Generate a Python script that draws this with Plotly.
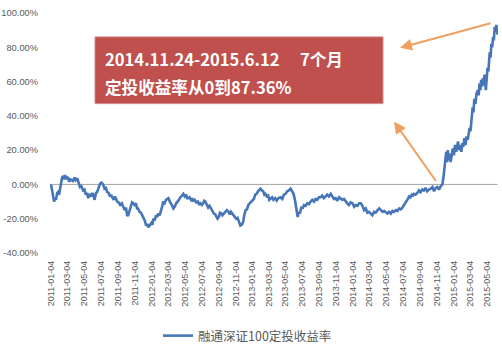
import plotly.graph_objects as go

dates = [
"2011-01-04","2011-01-08","2011-01-12","2011-01-15","2011-01-19","2011-01-22","2011-01-26","2011-01-29",
"2011-02-02","2011-02-07","2011-02-10","2011-02-13","2011-02-17","2011-02-21","2011-02-24","2011-02-28",
"2011-03-03","2011-03-07","2011-03-11","2011-03-15","2011-03-20","2011-03-25","2011-03-30","2011-04-04",
"2011-04-09","2011-04-13","2011-04-19","2011-04-24","2011-04-30","2011-05-05","2011-05-10","2011-05-15",
"2011-05-19","2011-05-24","2011-05-29","2011-06-03","2011-06-06","2011-06-11","2011-06-16","2011-06-20",
"2011-06-25","2011-07-01","2011-07-06","2011-07-12","2011-07-17","2011-07-22","2011-07-27","2011-08-01",
"2011-08-06","2011-08-10","2011-08-14","2011-08-19","2011-08-24","2011-09-01","2011-09-06","2011-09-12",
"2011-09-18","2011-09-23","2011-09-28","2011-10-03","2011-10-07","2011-10-11","2011-10-16","2011-10-21",
"2011-10-25","2011-10-29","2011-11-03","2011-11-08","2011-11-12","2011-11-16","2011-11-21","2011-11-26",
"2011-12-01","2011-12-05","2011-12-10","2011-12-15","2011-12-19","2011-12-23","2011-12-28","2012-01-03",
"2012-01-07","2012-01-10","2012-01-15","2012-01-20","2012-01-24","2012-01-28","2012-02-02","2012-02-07",
"2012-02-11","2012-02-15","2012-02-20","2012-02-25","2012-03-01","2012-03-05","2012-03-10","2012-03-15",
"2012-03-19","2012-03-23","2012-03-28","2012-04-02","2012-04-06","2012-04-10","2012-04-15","2012-04-20",
"2012-04-24","2012-04-28","2012-05-03","2012-05-08","2012-05-12","2012-05-16","2012-05-21","2012-05-26",
"2012-05-30","2012-06-03","2012-06-08","2012-06-14","2012-06-20","2012-06-24","2012-06-29","2012-07-04",
"2012-07-09","2012-07-13","2012-07-17","2012-07-22","2012-07-27","2012-08-01","2012-08-06","2012-08-12",
"2012-08-17","2012-08-22","2012-08-26","2012-08-30","2012-09-04","2012-09-08","2012-09-13","2012-09-17",
"2012-09-22","2012-09-27","2012-10-03","2012-10-09","2012-10-14","2012-10-18","2012-10-23","2012-10-27",
"2012-11-01","2012-11-06","2012-11-11","2012-11-16","2012-11-21","2012-11-26","2012-12-01","2012-12-05",
"2012-12-10","2012-12-15","2012-12-20","2012-12-25","2012-12-30","2013-01-04","2013-01-09","2013-01-14",
"2013-01-19","2013-01-24","2013-01-29","2013-02-02","2013-02-07","2013-02-12","2013-02-16","2013-02-20",
"2013-02-25","2013-03-02","2013-03-06","2013-03-11","2013-03-16","2013-03-21","2013-03-27","2013-04-02",
"2013-04-08","2013-04-16","2013-04-22","2013-04-28","2013-05-04","2013-05-10","2013-05-16","2013-05-22",
"2013-05-27","2013-06-02","2013-06-07","2013-06-12","2013-06-17","2013-06-21","2013-06-25","2013-07-01",
"2013-07-05","2013-07-10","2013-07-16","2013-07-22","2013-07-28","2013-08-03","2013-08-09","2013-08-15",
"2013-08-21","2013-08-27","2013-09-02","2013-09-08","2013-09-14","2013-09-20","2013-09-26","2013-10-02",
"2013-10-08","2013-10-15","2013-10-21","2013-10-27","2013-11-02","2013-11-08","2013-11-14","2013-11-20",
"2013-11-26","2013-12-02","2013-12-08","2013-12-14","2013-12-20","2013-12-26","2014-01-02","2014-01-08",
"2014-01-14","2014-01-20","2014-01-26","2014-02-01","2014-02-07","2014-02-13","2014-02-19","2014-02-25",
"2014-03-03","2014-03-09","2014-03-15","2014-03-21","2014-03-27","2014-04-03","2014-04-09","2014-04-15",
"2014-04-21","2014-04-27","2014-05-03","2014-05-09","2014-05-15","2014-05-21","2014-05-27","2014-06-02",
"2014-06-08","2014-06-14","2014-06-20","2014-06-26","2014-07-02","2014-07-08","2014-07-14","2014-07-18",
"2014-07-22","2014-07-26","2014-07-31","2014-08-05","2014-08-09","2014-08-13","2014-08-19","2014-08-25",
"2014-08-31","2014-09-06","2014-09-12","2014-09-18","2014-09-24","2014-09-30","2014-10-06","2014-10-13",
"2014-10-19","2014-10-25","2014-10-31","2014-11-06","2014-11-12","2014-11-18","2014-11-24","2014-11-28",
"2014-12-02","2014-12-05","2014-12-08","2014-12-11","2014-12-14","2014-12-17","2014-12-20","2014-12-24",
"2014-12-28","2015-01-01","2015-01-05","2015-01-09","2015-01-13","2015-01-17","2015-01-20","2015-01-24",
"2015-01-28","2015-02-01","2015-02-05","2015-02-08","2015-02-12","2015-02-16","2015-02-20","2015-02-24",
"2015-02-28","2015-03-03","2015-03-06","2015-03-10","2015-03-14","2015-03-17","2015-03-20","2015-03-24",
"2015-03-28","2015-04-02","2015-04-05","2015-04-08","2015-04-11","2015-04-14","2015-04-17","2015-04-20",
"2015-04-23","2015-04-26","2015-04-29","2015-05-01","2015-05-04","2015-05-07","2015-05-10","2015-05-12",
"2015-05-15","2015-05-18","2015-05-21","2015-05-24","2015-05-27","2015-05-30","2015-06-02","2015-06-05",
"2015-06-08","2015-06-12",
]

values = [
0,-3,-7,-10,-8,-9,-5,-4.5,
-6,-1,2,4,5,3,5.5,3,
4.5,3.5,1.5,3,2.5,2,4,2.5,
3.5,1,-1.5,-1,-3.5,-3,-6,-5,
-8,-5.5,-7,-5,-6,-9,-5,-4.5,
-2,0.5,1,0,-2.5,-2,-4.5,-5,
-7,-6,-7.5,-9,-7,-10,-10.5,-12,
-11,-13,-15,-13.5,-18,-18,-15,-12.5,
-10.5,-11,-12,-11,-14,-14,-16,-16.5,
-18,-20,-21,-24,-23,-25,-24,-22.5,
-23.5,-20,-21,-18,-19,-17,-18,-14,
-13,-10,-11,-9,-8.5,-8,-10,-12,
-12.5,-14,-13,-11,-10.5,-9.5,-8,-7,
-6,-5.5,-7,-6,-8,-8,-7.5,-9,
-8,-9.5,-9,-10.5,-10,-11.5,-11,-12,
-11,-9.5,-10,-12,-13.5,-12.5,-14,-15,
-17,-17.5,-19,-20,-19,-16.5,-17,-18,
-17,-16,-15,-16,-17.5,-16,-17,-18,
-19,-20,-19.5,-22,-24,-23.5,-22,-18,
-15,-14.5,-12,-11,-10,-9.5,-8.5,-6,
-5.5,-4,-3,-2.5,-3.5,-4,-6,-5.5,
-7,-6.5,-9,-8.5,-7.5,-9,-8,-9.5,
-8,-7.5,-8.5,-6,-5.5,-4,-3.5,-2.5,
-4,-5.5,-9,-13,-19,-16,-17,-13,
-14,-12,-12.5,-11,-11.5,-10,-9,-10,
-8.5,-9,-7.5,-7.5,-6.5,-8,-7,-6,
-7,-5.5,-7,-8.5,-8,-9.5,-7.5,-8.5,
-9,-8.5,-10,-11,-12,-10.5,-11,-13,
-12,-12.5,-11,-11,-12.5,-15,-14,-16.5,
-16,-17,-18,-16,-16.5,-15,-14,-15,
-16,-15.5,-16.5,-17,-16,-17,-15.5,-16,
-15,-15.5,-14,-14.5,-13.5,-12,-11,-9.5,
-8.5,-7,-7.5,-6,-6.5,-5.5,-6,-5,
-3.5,-4.5,-3,-3.5,-2,-4,-3,-2.5,
-1.5,-4,-2,-1.5,-3,-1,0,4,
10,15,19,13,20,14,18,13,
16,21,17,23,19,24,25,20,
23,19,24,22,27,23,28,26,
29,33,31,40,45,42,50,47,
53,55,52,59,55,61,57,62,
58,64,56,55,62,68,66,72,
77,74,82,80,86,84,92,89,
93,87.36,
]

tick_dates = [
"2011-01-04","2011-03-04","2011-05-04","2011-07-04","2011-09-04","2011-11-04",
"2012-01-04","2012-03-04","2012-05-04","2012-07-04","2012-09-04","2012-11-04",
"2013-01-04","2013-03-04","2013-05-04","2013-07-04","2013-09-04","2013-11-04",
"2014-01-04","2014-03-04","2014-05-04","2014-07-04","2014-09-04","2014-11-04",
"2015-01-04","2015-03-04","2015-05-04",
]
y_ticks = [-40, -20, 0, 20, 40, 60, 80, 100]
series_name = "融通深证100定投收益率"
note_line1 = "2014.11.24-2015.6.12　 7个月"
note_line2 = "定投收益率从0到87.36%"

fig = go.Figure()
fig.add_trace(go.Scatter(
    x=dates, y=values, mode="lines", name=series_name,
    line=dict(color="#4676B8", width=2.6),
))

W, H = 502, 354
ml, mr, mt, mb = 45, 4, 13, 100
pw, ph = W - ml - mr, H - mt - mb

def px(x):
    return (x - ml) / pw

def py(y):
    return (H - mb - y) / ph

fig.update_layout(
    width=W, height=H,
    margin=dict(l=ml, r=mr, t=mt, b=mb, pad=0),
    paper_bgcolor="white", plot_bgcolor="white",
    showlegend=True,
    legend=dict(orientation="h", x=px(158), xanchor="left", y=py(336), yanchor="middle",
                font=dict(family="Noto Sans CJK SC", size=12.5, color="#595959"),
                itemwidth=30),
    xaxis=dict(type="date", range=["2010-12-13", "2015-06-14"],
               tickvals=tick_dates, ticktext=tick_dates, tickangle=-90,
               showgrid=False, zeroline=False, showline=False, ticks="",
               ticklabelstandoff=5, automargin=False,
               tickfont=dict(family="Liberation Sans", size=9, color="#595959")),
    yaxis=dict(range=[-40, 100], tickvals=y_ticks,
               ticktext=[f"{v:.2f}%" for v in y_ticks],
               showgrid=False, zeroline=False, showline=False, ticks="",
               ticklabelstandoff=6, automargin=False,
               tickfont=dict(family="Liberation Sans", size=9.3, color="#595959")),
)

# zero axis line
fig.add_shape(type="line", xref="x", yref="y", x0="2010-12-30", x1="2015-06-12", y0=0, y1=0,
              line=dict(color="#A6A6A6", width=1), layer="below")

# red note box
fig.add_shape(type="rect", xref="paper", yref="paper",
              x0=px(95), x1=px(383), y0=py(104), y1=py(37),
              fillcolor="#C0504D", line=dict(color="#D08A88", width=1), layer="above")
fig.add_annotation(xref="paper", yref="paper", x=px(103), y=py(59), text=note_line1,
                   showarrow=False, xanchor="left", yanchor="middle",
                   font=dict(family="Noto Sans CJK SC", size=16.6, color="white", weight="bold"))
fig.add_annotation(xref="paper", yref="paper", x=px(103), y=py(87), text=note_line2,
                   showarrow=False, xanchor="left", yanchor="middle",
                   font=dict(family="Noto Sans CJK SC", size=16.6, color="white", weight="bold"))

# arrows
fig.add_annotation(xref="paper", yref="paper", x=px(400), y=py(48), ax=92, ay=-25,
                   text="", showarrow=True, arrowhead=2, arrowsize=1.2, arrowwidth=2,
                   arrowcolor="#F0A060")
fig.add_annotation(xref="paper", yref="paper", x=px(394), y=py(122), ax=43, ay=61,
                   text="", showarrow=True, arrowhead=2, arrowsize=1.2, arrowwidth=2,
                   arrowcolor="#F0A060")

fig.write_html("out.html")
